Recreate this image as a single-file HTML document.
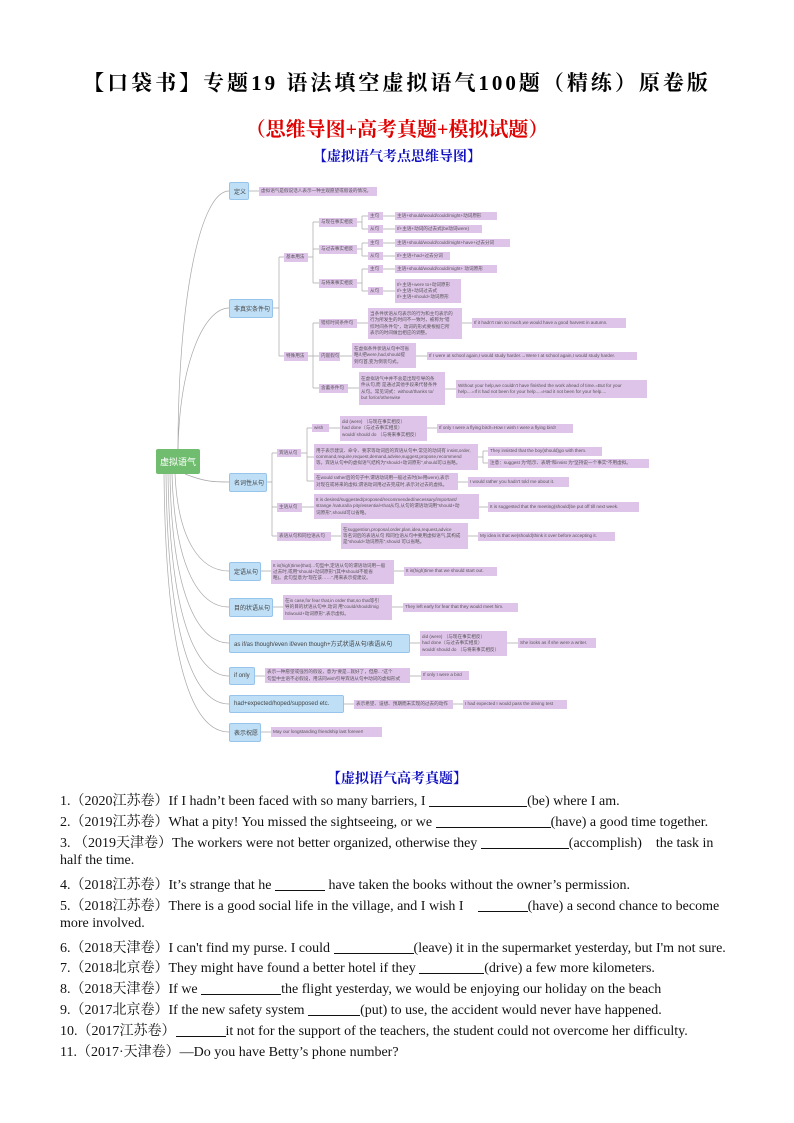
<!DOCTYPE html>
<html><head><meta charset="utf-8">
<style>
*{margin:0;padding:0;box-sizing:border-box}
body{width:794px;height:1123px;background:#fff;position:relative;overflow:hidden;font-family:"Liberation Serif","Noto Serif CJK SC",serif}
.a{position:absolute}
.p{position:absolute;background:#dfc4ea;color:#555;font-family:"Liberation Sans","Noto Sans CJK SC",sans-serif;font-size:4.6px;line-height:6.2px;padding:1px 2px;white-space:nowrap;overflow:hidden;display:flex;flex-direction:column;justify-content:center}
.b{position:absolute;background:#bfdff6;border:0.6px solid #97c4ea;border-radius:2px;color:#444;font-family:"Liberation Sans","Noto Sans CJK SC",sans-serif;font-size:6px;display:flex;align-items:center;padding-left:4px;white-space:nowrap}
.q{position:absolute;left:60px;font-size:14px;color:#111;white-space:nowrap;letter-spacing:0}
.u{display:inline-block;border-bottom:1px solid #111;height:12px;vertical-align:-2px}
</style></head><body>
<div class="a" style="left:0;width:794px;top:67px;text-align:center;font-size:21px;font-weight:bold;font-family:'Liberation Serif','Noto Serif CJK SC',serif;letter-spacing:3px">【口袋书】专题19 语法填空虚拟语气100题（精练）原卷版</div>
<div class="a" style="left:0;width:794px;top:113px;text-align:center;font-size:20px;font-weight:bold;color:#e00000;font-family:'Liberation Serif','Noto Serif CJK SC',serif">（思维导图+高考真题+模拟试题）</div>
<div class="a" style="left:0;width:794px;top:146px;text-align:center;font-size:14px;font-weight:bold;color:#1010c0;font-family:'Liberation Serif','Noto Serif CJK SC',serif">【虚拟语气考点思维导图】</div>

<svg class="a" style="left:0;top:0" width="794" height="800" fill="none" stroke="#a8a8a8" stroke-width="0.7">
<path d="M178 449 C178 300,200 191,229 191"/>
<path d="M178 449 C180 360,205 308,229 308"/>
<path d="M185 474 C205 482,215 482,229 482"/>
<path d="M175 474 C178 540,200 571,229 571"/>
<path d="M172 474 C175 570,200 607,229 607"/>
<path d="M170 474 C172 600,200 643,229 643"/>
<path d="M168 474 C170 630,200 676,229 676"/>
<path d="M166 474 C168 660,200 704,229 704"/>
<path d="M164 474 C166 690,200 732,229 732"/>
<path d="M249 191H259M273 308H279M279 257V356M279 257H284M279 356H284M308 257H313M313 222V283M313 222H319M313 249H319M313 283H319
M357 222H362M362 216V229M362 216H368M362 229H368M357 249H362M362 243V256M362 243H368M362 256H368M357 283H362M362 269V291M362 269H368M362 291H368
M383 216H395M383 229H395M383 243H395M383 256H395M383 269H395M383 291H395
M308 356H313M313 323V388M313 323H319M313 356H319M313 388H319M357 323H368M462 323H472M340 356H352M416 356H427M348 388H359M445 389H456
M267 482H272M272 453V536M272 453H277M272 507H277M272 536H277M301 453H307M307 428V481M307 428H312M307 457H314M307 481H314
M329 428H340M427 428H437M478 457H483M483 451V463M483 451H488M483 463H488M458 482H468M302 507H314M479 507H488M331 536H341M468 536H478
M261 571H271M394 571H404M273 607H283M392 607H403M410 643H420M507 643H518M255 676H265M410 676H421M344 704H354M453 704H463M261 732H271"/>
</svg>

<div class="a" style="left:156px;top:449px;width:44px;height:25px;background:#71bd6f;border-radius:2px;color:#fff;font-family:'Liberation Sans','Noto Sans CJK SC',sans-serif;font-size:9px;display:flex;align-items:center;justify-content:center">虚拟语气</div>

<div class="b" style="left:229px;top:182px;width:20px;height:18px">定义</div>
<div class="p" style="left:259px;top:187px;width:118px;height:9px">虚拟语气是假说话人表示一种主观愿望或假设的情况。</div>
<div class="b" style="left:229px;top:299px;width:44px;height:19px">非真实条件句</div>
<div class="p" style="left:284px;top:253px;width:24px;height:9px">基本用法</div>
<div class="p" style="left:319px;top:218px;width:38px;height:9px">与现在事实相反</div>
<div class="p" style="left:368px;top:212px;width:15px;height:8px">主句</div>
<div class="p" style="left:368px;top:225px;width:15px;height:8px">从句</div>
<div class="p" style="left:395px;top:212px;width:102px;height:8px">主语+should/would/could/might+动词原形</div>
<div class="p" style="left:395px;top:225px;width:87px;height:8px">If+主语+动词的过去式(be动词were)</div>
<div class="p" style="left:319px;top:245px;width:38px;height:9px">与过去事实相反</div>
<div class="p" style="left:368px;top:239px;width:15px;height:8px">主句</div>
<div class="p" style="left:368px;top:252px;width:15px;height:8px">从句</div>
<div class="p" style="left:395px;top:239px;width:115px;height:8px">主语+should/would/could/might+have+过去分词</div>
<div class="p" style="left:395px;top:252px;width:55px;height:8px">If+主语+had+过去分词</div>
<div class="p" style="left:319px;top:279px;width:38px;height:9px">与将来事实相反</div>
<div class="p" style="left:368px;top:265px;width:15px;height:8px">主句</div>
<div class="p" style="left:368px;top:287px;width:15px;height:8px">从句</div>
<div class="p" style="left:395px;top:265px;width:102px;height:8px">主语+should/would/could/might+ 动词原形</div>
<div class="p" style="left:395px;top:279px;width:66px;height:24px">If+主语+were to+动词原形<br>If+主语+动词过去式<br>If+主语+should+动词原形</div>
<div class="p" style="left:284px;top:352px;width:24px;height:9px">特殊用法</div>
<div class="p" style="left:319px;top:319px;width:38px;height:9px">错综时间条件句</div>
<div class="p" style="left:368px;top:308px;width:94px;height:31px">当条件状语从句表示的行为和主句表示的<br>行为所发生的时间不一致时，被称为“错<br>综时间条件句”，动词的形式要根据它所<br>表示的时间做出相应的调整。</div>
<div class="p" style="left:472px;top:318px;width:154px;height:10px">If it hadn't rain so much,we would have a good harvest in autumn.</div>
<div class="p" style="left:319px;top:352px;width:21px;height:9px">内嵌假句</div>
<div class="p" style="left:352px;top:343px;width:64px;height:25px">在虚拟条件状语从句中可省<br>略if,把were,had,should提<br>到句首,变为倒装句式。</div>
<div class="p" style="left:427px;top:352px;width:210px;height:8px">If I were at school again,I would study harder.→Were I at school again,I would study harder.</div>
<div class="p" style="left:319px;top:384px;width:29px;height:9px">含蓄条件句</div>
<div class="p" style="left:359px;top:372px;width:86px;height:33px">在虚拟语气中并不总是出现引导的条<br>件从句,而 是通过其他手段来代替条件<br>从句。常见词式：without/thanks to/<br>but for/or/otherwise</div>
<div class="p" style="left:456px;top:380px;width:191px;height:18px">Without your help,we couldn't have finished the work ahead of time.=But for your<br>help....=If it had not been for your help....=Had it not been for your help....</div>

<div class="b" style="left:229px;top:473px;width:38px;height:19px">名词性从句</div>
<div class="p" style="left:277px;top:449px;width:24px;height:8px">宾语从句</div>
<div class="p" style="left:312px;top:424px;width:17px;height:8px">wish</div>
<div class="p" style="left:340px;top:416px;width:87px;height:25px">did (were) （与现在事实相反）<br>had done（与过去事实相反）<br>would/ should do （与将来事实相反）</div>
<div class="p" style="left:437px;top:424px;width:136px;height:9px">If only I were a flying bird!=How I wish I were a flying bird!</div>
<div class="p" style="left:314px;top:444px;width:164px;height:26px">用于表示建议、命令、要求等动词后的宾语从句中,常见的动词有 insist,order,<br>command,require,request,demand,advise,suggest,propose,recommend<br>等。宾语从句中的虚拟语气结构为“should+动词原形”,should可以省略。</div>
<div class="p" style="left:488px;top:447px;width:114px;height:9px">They insisted that the boy(should)go with them.</div>
<div class="p" style="left:488px;top:459px;width:161px;height:9px">注意：suggest 为“暗示、表明”和insist 为“坚持说一个事实”不用虚拟。</div>
<div class="p" style="left:314px;top:473px;width:144px;height:17px">在would rather后的句子中,谓语动词用一般过去时(be用were),表示<br>对现在或将来的虚拟;谓语动词用过去完成时,表示对过去的虚拟。</div>
<div class="p" style="left:468px;top:477px;width:101px;height:10px">I would rather you hadn't told me about it.</div>
<div class="p" style="left:277px;top:503px;width:25px;height:9px">主语从句</div>
<div class="p" style="left:314px;top:494px;width:165px;height:25px">It is desired/suggested/proposed/recommended/necessary/important/<br>strange /natural/a pity/essential+that从句,从句的谓语动词用“should+动<br>词原形”,should可以省略。</div>
<div class="p" style="left:488px;top:502px;width:151px;height:10px">It is suggested that the meeting(should)be put off till next week.</div>
<div class="p" style="left:277px;top:532px;width:54px;height:9px">表语从句和同位语从句</div>
<div class="p" style="left:341px;top:523px;width:127px;height:26px">在suggestion,proposal,order,plan,idea,request,advice<br>等名词后的表语从句 和同位语从句中要用虚拟语气,其构成<br>是“should+动词原形”,should 可以省略。</div>
<div class="p" style="left:478px;top:532px;width:137px;height:9px">My idea is that we(should)think it over before accepting it.</div>

<div class="b" style="left:229px;top:562px;width:32px;height:19px">定语从句</div>
<div class="p" style="left:271px;top:560px;width:123px;height:24px">It is(high)time(that)...句型中,定语从句的谓语动词用一般<br>过去时,或用“should+动词原形”(其中should不能省<br>略)。此句型意为“现在该……”,用来表示提建议。</div>
<div class="p" style="left:404px;top:567px;width:93px;height:9px">It is(high)time that we should start out.</div>
<div class="b" style="left:229px;top:598px;width:44px;height:19px">目的状语从句</div>
<div class="p" style="left:283px;top:595px;width:109px;height:25px">在in case,for fear that,in order that,so that等引<br>导的目的状语从句中,动词 用“could/should/mig<br>ht/would+动词原形”,表示虚拟。</div>
<div class="p" style="left:403px;top:603px;width:115px;height:9px">They left early for fear that they would meet him.</div>
<div class="b" style="left:229px;top:634px;width:181px;height:19px">as if/as though/even if/even though+方式状语从句/表语从句</div>
<div class="p" style="left:420px;top:631px;width:87px;height:25px">did (were) （与现在事实相反）<br>had done（与过去事实相反）<br>would/ should do （与将来事实相反）</div>
<div class="p" style="left:518px;top:638px;width:78px;height:10px">She looks as if she were a writer.</div>
<div class="b" style="left:229px;top:667px;width:26px;height:18px">if only</div>
<div class="p" style="left:265px;top:668px;width:145px;height:15px">表示一种愿望或强烈的假设，意为“要是...就好了，但愿...”这个<br>句型中主语不必假设，用法同wish引导宾语从句中动词的虚拟形式</div>
<div class="p" style="left:421px;top:671px;width:48px;height:9px">If only I were a bird</div>
<div class="b" style="left:229px;top:695px;width:115px;height:18px">had+expected/hoped/supposed etc.</div>
<div class="p" style="left:354px;top:700px;width:99px;height:9px">表示希望、设想、预期而未实现的过去的动作</div>
<div class="p" style="left:463px;top:700px;width:104px;height:9px">I had expected I would pass the driving test</div>
<div class="b" style="left:229px;top:723px;width:32px;height:19px">表示祝愿</div>
<div class="p" style="left:271px;top:727px;width:111px;height:10px">May our longstanding friendship last forever!</div>

<div class="a" style="left:0;width:794px;top:768px;text-align:center;font-size:14px;font-weight:bold;color:#1010c0;font-family:'Liberation Serif','Noto Serif CJK SC',serif">【虚拟语气高考真题】</div>
<div class="q" style="top:790px">1.（2020江苏卷）If I hadn’t been faced with so many barriers, I <span class="u" style="width:98px"></span>(be) where I am.</div>
<div class="q" style="top:811px">2.（2019江苏卷）What a pity! You missed the sightseeing, or we <span class="u" style="width:115px"></span>(have) a good time together.</div>
<div class="q" style="top:832px">3. （2019天津卷）The workers were not better organized, otherwise they <span class="u" style="width:88px"></span>(accomplish) &nbsp;&nbsp; the task in</div>
<div class="q" style="top:853px">half the time.</div>
<div class="q" style="top:874px">4.（2018江苏卷）It’s strange that he <span class="u" style="width:50px"></span> have taken the books without the owner’s permission.</div>
<div class="q" style="top:895px">5.（2018江苏卷）There is a good social life in the village, and I wish I &nbsp;&nbsp; <span class="u" style="width:50px"></span>(have) a second chance to become</div>
<div class="q" style="top:916px">more involved.</div>
<div class="q" style="top:937px">6.（2018天津卷）I can't find my purse. I could <span class="u" style="width:80px"></span>(leave) it in the supermarket yesterday, but I'm not sure.</div>
<div class="q" style="top:957px">7.（2018北京卷）They might have found a better hotel if they <span class="u" style="width:65px"></span>(drive) a few more kilometers.</div>
<div class="q" style="top:978px">8.（2018天津卷）If we <span class="u" style="width:80px"></span>the flight yesterday, we would be enjoying our holiday on the beach</div>
<div class="q" style="top:999px">9.（2017北京卷）If the new safety system <span class="u" style="width:52px"></span>(put) to use, the accident would never have happened.</div>
<div class="q" style="top:1020px">10.（2017江苏卷）<span class="u" style="width:50px"></span>it not for the support of the teachers, the student could not overcome her difficulty.</div>
<div class="q" style="top:1041px">11.（2017·天津卷）—Do you have Betty’s phone number?</div>
</body></html>
